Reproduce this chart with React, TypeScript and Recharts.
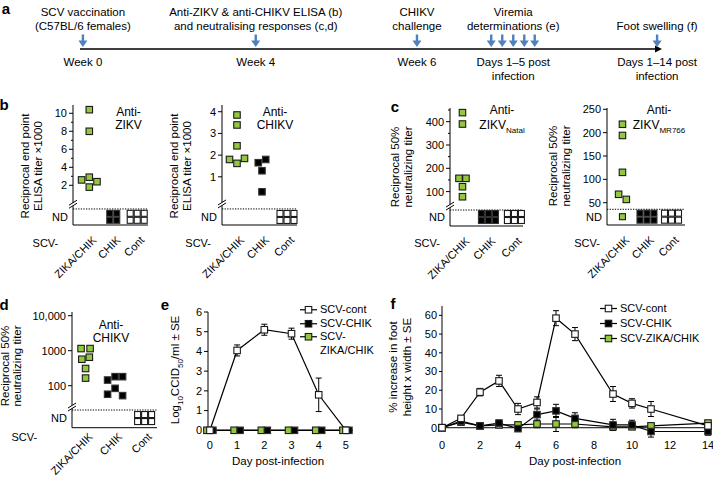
import React from 'react';
import {
  ScatterChart, Scatter, XAxis, YAxis, ReferenceLine, ReferenceDot,
  LineChart, Line, ErrorBar, Legend,
} from 'recharts';

// ================= DATA =================
const groupLabels = ['ZIKA/CHIK', 'CHIK', 'Cont'];

// panel a – schematic timeline (position along the timeline, 0–100)
const timelineArrowPos = [0.5, 30.3, 58.1, 70.9, 72.8, 74.7, 76.6, 78.4, 99.5];
const timelineLabelPos = [0.5, 30.3, 58.1, 74.7, 99.5];
const timelineTop = [
  ['SCV vaccination', '(C57BL/6 females)'],
  ['Anti-ZIKV & anti-CHIKV ELISA (b)', 'and neutralising responses (c,d)'],
  ['CHIKV', 'challenge'],
  ['Viremia', 'determinations (e)'],
  ['Foot swelling (f)'],
];
const timelineBottom = [
  ['Week 0'],
  ['Week 4'],
  ['Week 6'],
  ['Days 1\u20135 post', 'infection'],
  ['Days 1\u201314 post', 'infection'],
];

// panel b – ELISA titres (x1000)
const bZikvZikaChik = [10.4, 8.0, 2.9, 2.6, 2.4, 1.8];
const bZikvZikaChikLane = [0, 0, 0, -1, 1, 0];
const bZikvNd = [0, 4, 6];
const bChikvZikaChik = [3.85, 3.39, 2.43, 1.8, 1.62, 1.85];
const bChikvZikaChikLane = [0, 0, 0, -1, 0, 1];
const bChikvChik = [1.65, 1.8, 1.28, 0.31];
const bChikvChikLane = [-0.5, 0.5, 0, 0];
const bChikvNd = [0, 0, 6];

// panel c – neutralising titres
const cNatalZikaChik = [439, 390, 157, 157, 121, 78];
const cNatalZikaChikLane = [0, 0, -0.5, 0.5, 0, 0];
const cNatalNd = [0, 6, 6];
const cMrZikaChik = [218, 194, 115, 68, 57];
const cMrZikaChikLane = [0, 0, 0, -0.5, 0.5];
const cMrNd = [1, 6, 6];

// panel d – anti-CHIKV neutralising titres
const dZikaChik = [1150, 1150, 570, 650, 310, 165];
const dZikaChikLane = [-0.6, 0.6, -0.5, 0.5, 0, 0];
const dChik = [145, 181, 181, 84, 57, 52];
const dChikLane = [-1, 0, 1, 0, -1, 1];
const dNd = [0, 0, 6];

// panel e – viremia
const eDays = [0, 1, 2, 3, 4, 5];
const eCont = [0, 4.05, 5.1, 4.9, 1.8, 0];
const eContSe = [0, 0.28, 0.28, 0.28, 0.85, 0];
const eChik = [0, 0, 0, 0, 0, 0];
const eZikaChik = [0, 0, 0, 0, 0, 0];

// panel f – foot swelling
const fDays = [0, 1, 2, 3, 4, 5, 6, 7, 9, 10, 11, 14];
const fCont = [0, 5, 19, 25, 10, 13.5, 58.5, 50, 18, 13, 10, 1];
const fContSe = [0, 1.5, 2, 3, 3, 3, 4, 3.5, 4, 2.5, 4, 1];
const fChik = [0, 3.5, 1, 2.5, -0.5, 7, 9, 5, 1.5, 1.5, -2, -2];
const fChikSe = [0, 1, 1.5, 1.5, 1, 3, 3.5, 3, 3, 2.5, 3, 2];
const fZikaChik = [0, 3, 1, 1.5, 1.5, 2, 2, 2, 0.5, 0.5, 1, 2.5];
const fZikaChikSe = [0, 1, 1, 1, 1, 2, 4, 2, 1, 1, 1, 1];

const eTicksX = [0, 1, 2, 3, 4, 5];
const eTicksY = [0, 1, 2, 3, 4, 5, 6];
const fTicksX = [0, 2, 4, 6, 8, 10, 12, 14];
const fTicksY = [0, 10, 20, 30, 40, 50, 60];

// ================= STYLE =================
const FONT = '"Liberation Sans", Arial, Helvetica, sans-serif';
const GREEN = '#93c83e';
const EDGE = '#1a1a1a';
const BLUE = '#4f81bd';
const groupFill = [GREEN, '#000', '#fff'];

const eLegend = [
  { label: ['SCV-cont'], fill: '#fff' },
  { label: ['SCV-CHIK'], fill: '#000' },
  { label: ['SCV-', 'ZIKA/CHIK'], fill: GREEN },
];
const fLegend = [
  { label: ['SCV-cont'], fill: '#fff' },
  { label: ['SCV-CHIK'], fill: '#000' },
  { label: ['SCV-ZIKA/CHIK'], fill: GREEN },
];

// ================= HELPERS =================
const T = ({ x, y, children, size = 11.5, weight = 400 }: any) => (
  <div style={{ position: 'absolute', left: x, top: y, transform: 'translate(-50%,-50%)', fontSize: size, lineHeight: 1, whiteSpace: 'nowrap', fontWeight: weight, textAlign: 'center' }}>{children}</div>
);
const VT = ({ x, y, lines, size = 11.5, lh = 13 }: any) => (
  <div style={{ position: 'absolute', left: x, top: y, transform: 'translate(-50%,-50%) rotate(-90deg)', fontSize: size, lineHeight: `${lh}px`, whiteSpace: 'nowrap', textAlign: 'center' }}>
    {lines.map((l: any, i: number) => <div key={i}>{l}</div>)}
  </div>
);

const Sq = ({ cx, cy, fill, size = 6.5 }: any) => (
  <rect x={cx - size / 2} y={cy - size / 2} width={size} height={size} fill={fill} stroke={fill === '#000' ? '#333' : EDGE} strokeWidth={1.1} />
);

const BreakMark = (p: any) => {
  const { cx, cy } = p;
  return (
    <g>
      <polygon points={`${cx - 4},${cy + 1} ${cx + 4},${cy - 4} ${cx + 4},${cy - 1} ${cx - 4},${cy + 4}`} fill="#fff" />
      <line x1={cx - 4} y1={cy + 1} x2={cx + 4} y2={cy - 4} stroke="#000" strokeWidth={1} />
      <line x1={cx - 4} y1={cy + 4} x2={cx + 4} y2={cy - 1} stroke="#000" strokeWidth={1} />
    </g>
  );
};

type Series = { g: number; values: number[]; lanes: number[] };
type DotCfg = {
  x0: number; x1: number; y0: number; y1: number;
  xDomain: [number, number]; yDomain: [number, number]; log?: boolean;
  major: number[]; minor?: number[]; fmt?: (v: number) => string;
  ndValue: number; ndLine: number; breakAt?: number;
  series: Series[]; nd: number[]; lanePitch: number;
  scvDx: number; scvDy: number; labelDy: number;
};

function DotPanel({ c }: { c: DotCfg }) {
  const padL = 60, padT = 6, padR = 6, padB = 50;
  const W = c.x1 - c.x0 + padL + padR;
  const H = c.y1 - c.y0 + padT + padB;
  const pts = c.series.flatMap((s) => s.values.map((v, i) => ({ g: s.g, v, lane: s.lanes[i] })));
  const ndPts = c.nd.map((n, g) => ({ g, v: c.ndValue, n })).filter((d) => d.n > 0);
  const minor = c.minor || [];
  const fmt = c.fmt || ((v: number) => String(v));
  const yTick = (p: any) => {
    const { x, y, payload } = p;
    const v = payload.value;
    if (v === c.ndValue) {
      return <text x={x - 5} y={y} textAnchor="end" dominantBaseline="central" fontSize={11} fill="#000">ND</text>;
    }
    const isMinor = minor.includes(v);
    return (
      <g>
        <line x1={x - (isMinor ? 2 : 4)} x2={x} y1={y} y2={y} stroke="#000" strokeWidth={1} />
        {!isMinor && <text x={x - 6} y={y} textAnchor="end" dominantBaseline="central" fontSize={11} fill="#000">{fmt(v)}</text>}
      </g>
    );
  };
  const xTick = (p: any) => {
    const { x, y, payload } = p;
    const g = payload.value;
    return (
      <g>
        <text transform={`translate(${x + 5},${y + c.labelDy}) rotate(-45)`} textAnchor="end" dominantBaseline="central" fontSize={11} fill="#000">{groupLabels[g]}</text>
        {g === 0 && <text x={x - c.scvDx} y={y + c.scvDy} textAnchor="end" dominantBaseline="central" fontSize={11} fill="#000">SCV-</text>}
      </g>
    );
  };
  const ndShape = (p: any) => {
    const { cx, cy, payload } = p;
    const n = payload.n;
    const cols = n === 1 ? 1 : n === 4 ? 2 : 3;
    const rows = Math.ceil(n / cols);
    const pitch = 7;
    const fill = groupFill[payload.g];
    const out: any[] = [];
    for (let i = 0; i < n; i++) {
      const col = i % cols;
      const row = Math.floor(i / cols);
      const sx = cx + (col - (cols - 1) / 2) * pitch;
      const sy = cy + (row - (rows - 1) / 2) * pitch;
      out.push(<Sq key={i} cx={sx} cy={sy} fill={fill} size={6} />);
    }
    return <g>{out}</g>;
  };
  const ptShape = (p: any) => <Sq cx={p.cx + p.payload.lane * c.lanePitch} cy={p.cy} fill={groupFill[p.payload.g]} />;
  return (
    <div style={{ position: 'absolute', left: c.x0 - padL, top: c.y0 - padT }}>
      <ScatterChart width={W} height={H} margin={{ top: padT, right: padR, bottom: 0, left: 0 }}>
        <XAxis type="number" dataKey="g" domain={c.xDomain} ticks={[0, 1, 2]} interval={0} tick={xTick} tickLine={false} tickSize={0} tickMargin={0} height={padB} axisLine={{ stroke: '#000' }} />
        <YAxis type="number" dataKey="v" domain={c.yDomain} scale={c.log ? 'log' : 'linear'} ticks={[...c.major, ...minor, c.ndValue]} interval={0} tick={yTick} tickLine={false} tickSize={0} tickMargin={0} width={padL} axisLine={{ stroke: '#000' }} />
        <ReferenceLine y={c.ndLine} stroke="#000" strokeWidth={1} strokeDasharray="1.3 1.3" />
        {c.breakAt !== undefined && <ReferenceDot x={c.xDomain[0]} y={c.breakAt} shape={BreakMark} ifOverflow="visible" />}
        <Scatter data={ndPts} shape={ndShape} isAnimationActive={false} />
        <Scatter data={pts} shape={ptShape} isAnimationActive={false} />
      </ScatterChart>
    </div>
  );
}

const bZikvCfg: DotCfg = {
  x0: 73, x1: 148, y0: 105, y1: 225, xDomain: [-0.68, 2.45], yDomain: [-2.41, 10.92],
  major: [2, 4, 6, 8, 10], minor: [3, 5, 7, 9], ndValue: -1.5, ndLine: -0.63, breakAt: -0.1,
  series: [{ g: 0, values: bZikvZikaChik, lanes: bZikvZikaChikLane }], nd: bZikvNd, lanePitch: 7.7,
  scvDx: 31, scvDy: 18, labelDy: 13,
};
const bChikvCfg: DotCfg = {
  x0: 222, x1: 297, y0: 105, y1: 225, xDomain: [-0.6, 2.4], yDomain: [-1.22, 4.31],
  major: [1, 2, 3, 4], ndValue: -0.85, ndLine: -0.48, breakAt: -0.25,
  series: [
    { g: 0, values: bChikvZikaChik, lanes: bChikvZikaChikLane },
    { g: 1, values: bChikvChik, lanes: bChikvChikLane },
  ],
  nd: bChikvNd, lanePitch: 7.5, scvDx: 26, scvDy: 18, labelDy: 13,
};
const cNatalCfg: DotCfg = {
  x0: 450, x1: 523, y0: 108, y1: 226, xDomain: [-0.48, 2.33], yDomain: [-47.6, 458.8],
  major: [100, 200, 300, 400], minor: [150, 250, 350, 450], ndValue: -9, ndLine: 21, breakAt: 38,
  series: [{ g: 0, values: cNatalZikaChik, lanes: cNatalZikaChikLane }], nd: cNatalNd, lanePitch: 7,
  scvDx: 22.5, scvDy: 17, labelDy: 13,
};
const cMrCfg: DotCfg = {
  x0: 607, x1: 685, y0: 108, y1: 225, xDomain: [-0.63, 2.55], yDomain: [2.2, 252.8],
  major: [50, 100, 150, 200, 250], ndValue: 20, ndLine: 35.9,
  series: [{ g: 0, values: cMrZikaChik, lanes: cMrZikaChikLane }], nd: cMrNd, lanePitch: 7.7,
  scvDx: 22.5, scvDy: 18, labelDy: 13,
};
const dCfg: DotCfg = {
  x0: 72, x1: 157, y0: 312, y1: 427.7, xDomain: [-0.46, 2.42], yDomain: [6.31, 12750], log: true,
  major: [100, 1000, 10000], fmt: (v) => (v === 10000 ? '10,000' : String(v)),
  ndValue: 11.9, ndLine: 20.2, breakAt: 24.6,
  series: [
    { g: 0, values: dZikaChik, lanes: dZikaChikLane },
    { g: 1, values: dChik, lanes: dChikLane },
  ],
  nd: dNd, lanePitch: 7.5, scvDx: 48.5, scvDy: 9, labelDy: 7,
};

// ============ timeline (panel a) ============
const DownArrow = (p: any) => {
  const { cx, cy } = p;
  return (
    <g fill={BLUE}>
      <rect x={cx - 1.2} y={cy - 14.5} width={2.4} height={7} />
      <polygon points={`${cx - 4.5},${cy - 8.5} ${cx + 4.5},${cy - 8.5} ${cx},${cy - 2}`} />
    </g>
  );
};
const ArrowHead = (p: any) => {
  const { cx, cy } = p;
  return <polygon points={`${cx - 5},${cy - 3.5} ${cx + 2},${cy} ${cx - 5},${cy + 3.5}`} fill="#000" />;
};
const TimelineLabel = (p: any) => {
  const { cx, cy, payload } = p;
  const top: string[] = payload.top;
  const bottom: string[] = payload.bottom;
  return (
    <g fontSize={11.5} fill="#000">
      {top.map((t, i) => (
        <text key={'t' + i} x={cx} y={cy - 23 - (top.length - 1 - i) * 14} textAnchor="middle" dominantBaseline="central">{t}</text>
      ))}
      {bottom.map((t, i) => (
        <text key={'b' + i} x={cx} y={cy + 13 + i * 14} textAnchor="middle" dominantBaseline="central">{t}</text>
      ))}
    </g>
  );
};

function Timeline() {
  const arrows = timelineArrowPos.map((x) => ({ x, y: 0 }));
  const labels = timelineLabelPos.map((x, i) => ({ x, y: 0, top: timelineTop[i], bottom: timelineBottom[i] }));
  return (
    <div style={{ position: 'absolute', left: 0, top: 0 }}>
      <ScatterChart width={713} height={100} margin={{ top: 0, right: 53, bottom: 0, left: 80 }}>
        <XAxis type="number" dataKey="x" domain={[0, 100]} hide />
        <YAxis type="number" dataKey="y" domain={[-51, 49]} hide />
        <ReferenceLine segment={[{ x: 0, y: 0 }, { x: 100, y: 0 }]} stroke="#000" strokeWidth={1.5} />
        <ReferenceDot x={100} y={0} shape={ArrowHead} ifOverflow="visible" />
        <Scatter data={arrows} shape={DownArrow} isAnimationActive={false} />
        <Scatter data={labels} shape={TimelineLabel} isAnimationActive={false} />
      </ScatterChart>
    </div>
  );
}

// ============ legend ============
const LegendBox = ({ items, rowH }: any) => (
  <div style={{ fontSize: 11, fontFamily: FONT, color: '#000' }}>
    {items.map((it: any, k: number) => (
      <div key={k} style={{ display: 'flex', alignItems: 'flex-start' }}>
        <svg width={17} height={rowH} style={{ flex: 'none', display: 'block' }}>
          <line x1={0} x2={17} y1={rowH / 2} y2={rowH / 2} stroke="#000" strokeWidth={1.2} />
          <rect x={8.5 - 3.25} y={rowH / 2 - 3.25} width={6.5} height={6.5} fill={it.fill} stroke={EDGE} strokeWidth={1.1} />
        </svg>
        <div style={{ marginLeft: 3, lineHeight: `${rowH}px`, whiteSpace: 'nowrap' }}>
          {it.label.map((l: string, i: number) => <div key={i}>{l}</div>)}
        </div>
      </div>
    ))}
  </div>
);

const squareDot = (fill: string, dx = 0) => (p: any) => {
  const { cx, cy, index } = p;
  if (cx == null || cy == null) return <g key={index} />;
  return <rect key={index} x={cx + dx - 3.25} y={cy - 3.25} width={6.5} height={6.5} fill={fill} stroke={fill === '#000' ? '#333' : EDGE} strokeWidth={1.1} />;
};

function PanelE() {
  const rows = eDays.map((d, i) => ({ day: d, cont: eCont[i], contSe: eContSe[i], chik: eChik[i], zc: eZikaChik[i] }));
  const x0 = 208, x1 = 353, y0 = 311.7, y1 = 430;
  const padL = 30, padT = 6, padR = 4, padB = 26;
  const left = x0 - padL, top = y0 - padT;
  return (
    <div style={{ position: 'absolute', left, top }}>
      <LineChart width={x1 - x0 + padL + padR} height={y1 - y0 + padT + padB} data={rows} margin={{ top: padT, right: padR, bottom: 0, left: 0 }}>
        <XAxis type="number" dataKey="day" domain={[-0.07, 5.26]} ticks={eTicksX} interval={0} tickLine={false} tickSize={4} tickMargin={7} height={padB} axisLine={{ stroke: '#000' }} tick={{ fontSize: 11, fill: '#000' }} />
        <YAxis type="number" domain={[0, 6]} ticks={eTicksY} interval={0} width={padL} tickSize={4} tickMargin={2} tick={{ fontSize: 11, fill: '#000' }} axisLine={{ stroke: '#000' }} tickLine={{ stroke: '#000' }} />
        <Line type="linear" dataKey="zc" stroke="#000" strokeWidth={1.2} dot={squareDot(GREEN, -3)} activeDot={false} isAnimationActive={false} />
        <Line type="linear" dataKey="chik" stroke="#000" strokeWidth={1.2} dot={squareDot('#000', 3)} activeDot={false} isAnimationActive={false} />
        <Line type="linear" dataKey="cont" stroke="#000" strokeWidth={1.2} dot={squareDot('#fff')} activeDot={false} isAnimationActive={false}>
          <ErrorBar dataKey="contSe" width={3} stroke="#000" strokeWidth={1} direction="y" />
        </Line>
        <Legend verticalAlign="middle" align="center" layout="horizontal" wrapperStyle={{ left: 300 - left, top: 303.2 - top, width: 110, height: 'auto' }} content={<LegendBox items={eLegend} rowH={13.5} />} />
      </LineChart>
    </div>
  );
}

function PanelF() {
  const rows = fDays.map((d, i) => ({
    day: d, cont: fCont[i], contSe: fContSe[i], chik: fChik[i], chikSe: fChikSe[i], zc: fZikaChik[i], zcSe: fZikaChikSe[i],
  }));
  const x0 = 442, x1 = 708, y0 = 305.6, y1 = 436.7;
  const padL = 30, padT = 6, padR = 4, padB = 26;
  const left = x0 - padL, top = y0 - padT;
  return (
    <div style={{ position: 'absolute', left, top }}>
      <LineChart width={x1 - x0 + padL + padR} height={y1 - y0 + padT + padB} data={rows} margin={{ top: padT, right: padR, bottom: 0, left: 0 }}>
        <XAxis type="number" dataKey="day" domain={[0, 14]} ticks={fTicksX} interval={0} tickLine={false} axisLine={false} tickSize={0} tickMargin={4} height={padB} tick={{ fontSize: 11, fill: '#000' }} />
        <YAxis type="number" domain={[-5, 65]} ticks={fTicksY} interval={0} width={padL} tickSize={3} tickMargin={2} tick={{ fontSize: 11, fill: '#000' }} axisLine={false} tickLine={{ stroke: '#000' }} />
        <ReferenceLine y={0} stroke="#000" strokeWidth={1} />
        <ReferenceLine segment={[{ x: 0, y: 0 }, { x: 0, y: 65 }]} stroke="#000" strokeWidth={1} />
        <Line type="linear" dataKey="zc" stroke="#000" strokeWidth={1.2} dot={squareDot(GREEN)} activeDot={false} isAnimationActive={false}>
          <ErrorBar dataKey="zcSe" width={3} stroke="#000" strokeWidth={1} direction="y" />
        </Line>
        <Line type="linear" dataKey="chik" stroke="#000" strokeWidth={1.2} dot={squareDot('#000')} activeDot={false} isAnimationActive={false}>
          <ErrorBar dataKey="chikSe" width={3} stroke="#000" strokeWidth={1} direction="y" />
        </Line>
        <Line type="linear" dataKey="cont" stroke="#000" strokeWidth={1.2} dot={squareDot('#fff')} activeDot={false} isAnimationActive={false}>
          <ErrorBar dataKey="contSe" width={3} stroke="#000" strokeWidth={1} direction="y" />
        </Line>
        <Legend verticalAlign="middle" align="center" layout="horizontal" wrapperStyle={{ left: 600 - left, top: 300.8 - top, width: 110, height: 'auto' }} content={<LegendBox items={fLegend} rowH={15} />} />
      </LineChart>
    </div>
  );
}

export default function App() {
  return (
    <div style={{ position: 'absolute', left: 0, top: 0, width: 713, height: 480, overflow: 'hidden', background: '#fff', fontFamily: FONT, color: '#000' }}>
      <style>{'.recharts-surface{overflow:visible}'}</style>
      <Timeline />
      <DotPanel c={bZikvCfg} />
      <DotPanel c={bChikvCfg} />
      <DotPanel c={cNatalCfg} />
      <DotPanel c={cMrCfg} />
      <DotPanel c={dCfg} />
      <PanelE />
      <PanelF />

      {/* panel letters */}
      <T x={6} y={8} size={15} weight={700}>a</T>
      <T x={4} y={104} size={15} weight={700}>b</T>
      <T x={395} y={106} size={15} weight={700}>c</T>
      <T x={4} y={304} size={15} weight={700}>d</T>
      <T x={165} y={304} size={15} weight={700}>e</T>
      <T x={393} y={303} size={15} weight={700}>f</T>

      {/* axis titles */}
      <VT x={31.5} y={166} lines={['Reciprocal end point', 'ELISA titer \u00d71000']} />
      <VT x={180.5} y={166} lines={['Reciprocal end point', 'ELISA titer \u00d71000']} />
      <VT x={401.5} y={166.5} lines={['Reciprocal 50%', 'neutralizing titer']} />
      <VT x={560} y={166} lines={['Reciprocal 50%', 'neutralizing titer']} />
      <VT x={11} y={366} lines={['Reciprocal 50%', 'neutralizing titer']} lh={12} />
      <VT x={178} y={370} lines={[<span key="l">Log<sub style={{ fontSize: 8 }}>10</sub>CCID<sub style={{ fontSize: 8 }}>50</sub>{'/ml \u00b1 SE'}</span>]} />
      <VT x={400} y={367} lines={['% increase in foot', 'height x width \u00b1 SE']} lh={14} />
      <T x={278} y={462}>Day post-infection</T>
      <T x={575} y={462}>Day post-infection</T>

      {/* panel annotations */}
      <T x={128.5} y={112} size={12}>Anti-</T>
      <T x={128.5} y={125} size={12}>ZIKV</T>
      <T x={275} y={112} size={12}>Anti-</T>
      <T x={275} y={125} size={12}>CHIKV</T>
      <T x={502} y={110} size={12}>Anti-</T>
      <div style={{ position: 'absolute', left: 502, top: 119, transform: 'translateX(-50%)', fontSize: 12, lineHeight: '12px', whiteSpace: 'nowrap' }}>
        ZIKV<span style={{ fontSize: 8, position: 'relative', top: 4 }}>Natal</span>
      </div>
      <T x={659} y={110} size={12}>Anti-</T>
      <div style={{ position: 'absolute', left: 659, top: 119, transform: 'translateX(-50%)', fontSize: 12, lineHeight: '12px', whiteSpace: 'nowrap' }}>
        ZIKV<span style={{ fontSize: 8, position: 'relative', top: 4 }}>MR766</span>
      </div>
      <T x={111} y={325} size={12}>Anti-</T>
      <T x={111} y={338} size={12}>CHIKV</T>
    </div>
  );
}
